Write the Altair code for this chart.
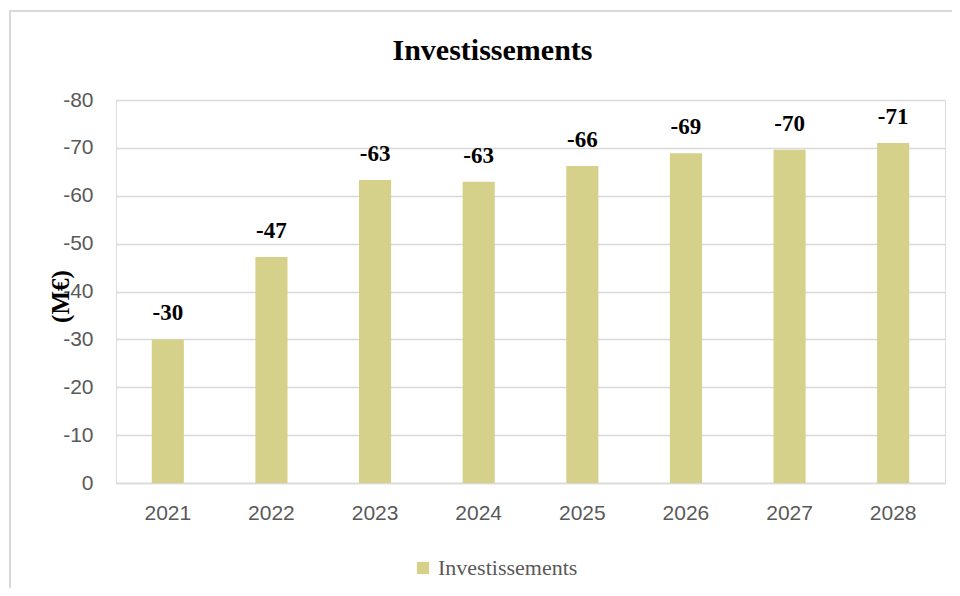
import altair as alt
import pandas as pd

years = ["2021", "2022", "2023", "2024", "2025", "2026", "2027", "2028"]
values = [-30.0, -47.2, -63.3, -62.9, -66.2, -68.9, -69.6, -71.0]
labels = ["-30", "-47", "-63", "-63", "-66", "-69", "-70", "-71"]
series_name = "Investissements"
y_ticks = [-80, -70, -60, -50, -40, -30, -20, -10, 0]

df = pd.DataFrame({"year": years, "value": values, "label": labels, "series": series_name})

W, H = 829, 383
bar_color = "#D5D18A"
grid_color = "#D9D9D9"
label_gray = "#595959"

x_enc = alt.X(
    "year:N",
    scale=alt.Scale(paddingInner=0.69, paddingOuter=0.345),
    axis=alt.Axis(
        title=None, labelAngle=0, ticks=False, domain=True, domainColor=grid_color,
        domainWidth=1.5, labelPadding=19, labelFont="Liberation Sans", labelFontSize=21,
        labelColor=label_gray, grid=False,
    ),
)
y_enc = alt.Y(
    "value:Q",
    scale=alt.Scale(domain=[-80, 0], reverse=True, nice=False),
    axis=alt.Axis(
        values=y_ticks,
        labelExpr="datum.value == 0 ? '0' : '-' + abs(datum.value)",
        title="(M€)", titleFont="Liberation Serif", titleFontSize=25, titleFontWeight="bold",
        titleColor="black", titleX=-56, titleY=196, titleAngle=270, titleAlign="center",
        titleBaseline="middle",
        domain=False, ticks=False, grid=True, gridColor=grid_color, gridWidth=1.5,
        labelPadding=23, labelFont="Liberation Sans", labelFontSize=21, labelColor=label_gray,
    ),
)

bars = alt.Chart(df).mark_bar().encode(
    x=x_enc,
    y=y_enc,
    color=alt.Color(
        "series:N",
        scale=alt.Scale(range=[bar_color]),
        legend=alt.Legend(
            title=None, orient="none", legendX=296, legendY=457, symbolType="square",
            symbolSize=150, symbolStrokeWidth=0, labelFont="Liberation Serif",
            labelFontSize=22, labelColor=label_gray, symbolOffset=0, labelOffset=4,
        ),
    ),
)

texts = alt.Chart(df).mark_text(
    font="Liberation Serif", fontSize=23, fontWeight="bold", color="black",
    baseline="alphabetic", dy=-19,
).encode(x="year:N", y="value:Q", text="label:N")

frame = alt.Chart(df).mark_rect(
    fill=None, stroke=grid_color, strokeWidth=2
).encode(
    x=alt.value(-106), x2=alt.value(W + 60), y=alt.value(-89), y2=alt.value(H + 150)
)

chart = alt.layer(frame, bars, texts).properties(
    width=W,
    height=H,
    title=alt.TitleParams(
        "Investissements", font="Liberation Serif", fontSize=30, fontWeight="bold",
        color="black", anchor="middle", frame="group", offset=38, dx=-38, dy=94,
    ),
    autosize=alt.AutoSizeParams(type="none"),
    padding={"left": 108, "top": 92, "right": 7, "bottom": 105},
).configure_view(stroke=None).configure(background="white")

chart.save("out.html", embed_options={"renderer": "svg", "actions": False})
